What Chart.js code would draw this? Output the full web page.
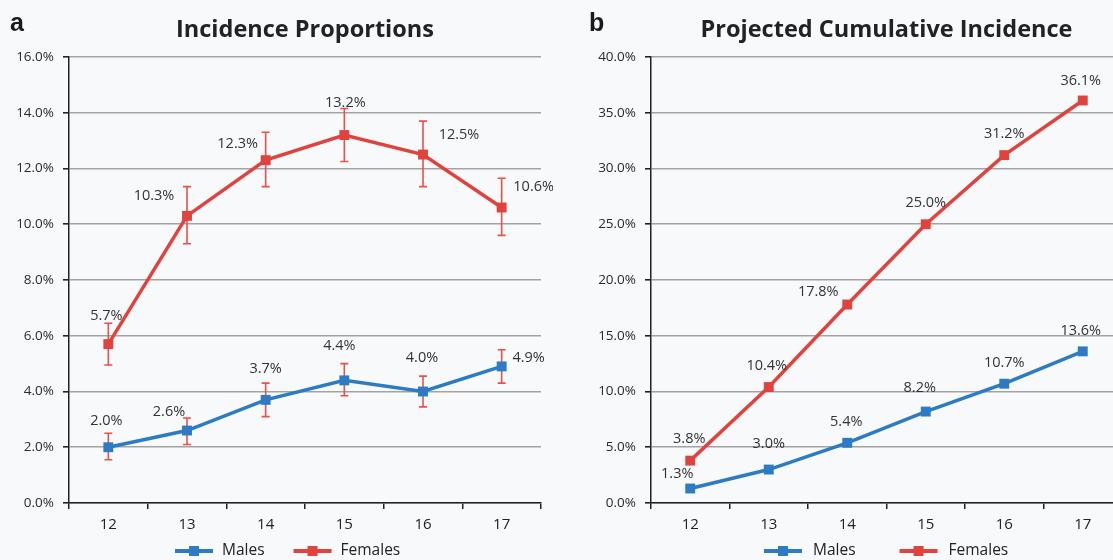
<!DOCTYPE html>
<html>
<head>
<meta charset="utf-8">
<script src="https://cdn.jsdelivr.net/npm/chart.js@4.4.1/dist/chart.umd.min.js"></script>
<style>
  html, body { margin: 0; padding: 0; background: #f8f9fb; overflow: hidden; width: 1113px; height: 560px; }
  .panel { position: absolute; top: 0; }
  #wrapA { left: 0; width: 553px; height: 580px; }
  #wrapB { left: 556px; width: 600px; height: 580px; }
</style>
</head>
<body>
<div class="panel" id="wrapA"><canvas id="chartA" width="553" height="580"></canvas></div>
<div class="panel" id="wrapB"><canvas id="chartB" width="600" height="580"></canvas></div>
<script>
const ages = ['12', '13', '14', '15', '16', '17'];

// panel a - incidence proportions (%)
const incMales = [2.0, 2.6, 3.7, 4.4, 4.0, 4.9];
const incFemales = [5.7, 10.3, 12.3, 13.2, 12.5, 10.6];
// error bar ends
const incMalesLow = [1.55, 2.1, 3.1, 3.85, 3.45, 4.3];
const incMalesHigh = [2.5, 3.05, 4.3, 5.0, 4.55, 5.5];
const incFemalesLow = [4.95, 9.3, 11.35, 12.25, 11.35, 9.6];
const incFemalesHigh = [6.45, 11.35, 13.3, 14.15, 13.7, 11.65];

// panel b - projected cumulative incidence (%)
const cumMales = [1.3, 3.0, 5.4, 8.2, 10.7, 13.6];
const cumFemales = [3.8, 10.4, 17.8, 25.0, 31.2, 36.1];

// y axis ranges
const yA = { max: 16, step: 2 };
const yB = { max: 40, step: 5 };

const BLUE = '#2c7bc3';
const RED = '#e0433e';
const ERR = '#e8524c';
const FONT = '"Open Sans", Lato, sans-serif';

Chart.defaults.font.family = FONT;
Chart.defaults.color = '#333';

// error bars are drawn under the lines
const errorBars = {
  id: 'errorBars',
  beforeDatasetsDraw(chart) {
    const ctx = chart.ctx;
    const y = chart.scales.y;
    ctx.save();
    ctx.strokeStyle = ERR;
    ctx.lineWidth = 1.6;
    chart.data.datasets.forEach((ds, di) => {
      if (!ds.errLow) return;
      chart.getDatasetMeta(di).data.forEach((pt, i) => {
        const top = y.getPixelForValue(ds.errHigh[i]);
        const bot = y.getPixelForValue(ds.errLow[i]);
        ctx.beginPath();
        ctx.moveTo(pt.x, top); ctx.lineTo(pt.x, bot);
        ctx.moveTo(pt.x - 4, top); ctx.lineTo(pt.x + 4, top);
        ctx.moveTo(pt.x - 4, bot); ctx.lineTo(pt.x + 4, bot);
        ctx.stroke();
      });
    });
    ctx.restore();
  }
};

// value labels next to each point
const valueLabels = {
  id: 'valueLabels',
  afterDatasetsDraw(chart) {
    const ctx = chart.ctx;
    ctx.save();
    ctx.font = '14.5px ' + FONT;
    ctx.fillStyle = '#333';
    ctx.textAlign = 'center';
    ctx.textBaseline = 'middle';
    chart.data.datasets.forEach((ds, di) => {
      chart.getDatasetMeta(di).data.forEach((pt, i) => {
        const n = ds.nudge[i];
        ctx.fillText(ds.data[i].toFixed(1) + '%', pt.x + n[0], pt.y + n[1]);
      });
    });
    ctx.restore();
  }
};

// panel letter and the line+square legend under the axis
const panelDecor = {
  id: 'panelDecor',
  afterDraw(chart, args, opts) {
    const ctx = chart.ctx;
    ctx.save();
    ctx.font = 'bold 25px "Liberation Sans", Arial, sans-serif';
    ctx.fillStyle = '#1a1a1a';
    ctx.textBaseline = 'alphabetic';
    ctx.fillText(opts.letter, opts.letterX, 31);

    ctx.font = '15.5px ' + FONT;
    ctx.textBaseline = 'middle';
    let x = opts.legendX;
    const y = 551;
    chart.data.datasets.forEach(ds => {
      ctx.strokeStyle = ds.borderColor;
      ctx.lineWidth = 4;
      ctx.beginPath(); ctx.moveTo(x, y); ctx.lineTo(x + 38, y); ctx.stroke();
      ctx.fillStyle = ds.borderColor;
      ctx.fillRect(x + 14, y - 5, 10, 10);
      x += 38 + opts.textGap;
      ctx.fillStyle = '#222';
      ctx.fillText(ds.label, x, y);
      x += ctx.measureText(ds.label).width + opts.itemGap;
    });
    ctx.restore();
  }
};

function lineSet(label, data, color, nudge, low, high) {
  return {
    label: label,
    data: data,
    borderColor: color,
    backgroundColor: color,
    borderWidth: 3.5,
    pointStyle: 'rect',
    pointRadius: 7,
    pointHoverRadius: 7,
    pointBorderWidth: 0,
    pointBackgroundColor: color,
    tension: 0,
    nudge: nudge,
    errLow: low,
    errHigh: high
  };
}

function makeChart(id, title, decor, datasets, yRange, axisWidth, padRight) {
  return new Chart(document.getElementById(id), {
    type: 'line',
    data: { labels: ages, datasets: datasets },
    plugins: [errorBars, valueLabels, panelDecor],
    options: {
      responsive: false,
      animation: false,
      layout: { padding: { top: 0, left: 0, right: padRight, bottom: 41 } },
      scales: {
        x: {
          offset: true,
          grid: { offset: true, drawOnChartArea: false, drawTicks: true, tickLength: 6, tickColor: '#222', lineWidth: 1.5 },
          border: { color: '#222', width: 1.5 },
          ticks: { font: { size: 15 }, color: '#222', padding: 7 },
          afterFit(scale) { scale.height = 36; }
        },
        y: {
          min: 0,
          max: yRange.max,
          ticks: {
            stepSize: yRange.step,
            font: { size: 13.5 },
            color: '#2a2a2a',
            padding: 9,
            callback: v => v.toFixed(1) + '%'
          },
          grid: { color: '#a3a3a3', lineWidth: 1.6, tickLength: 6, tickColor: '#222' },
          border: { color: '#222', width: 1.5 },
          afterFit(scale) { scale.width = axisWidth; }
        }
      },
      plugins: {
        title: {
          display: true,
          text: title,
          fullSize: false,
          color: '#222',
          font: { size: 23.5, weight: 'bold' },
          padding: { top: 16, bottom: 12.8 }
        },
        legend: { display: false },
        tooltip: { enabled: false },
        panelDecor: decor
      }
    }
  });
}

const chartA = makeChart('chartA', 'Incidence Proportions',
  { letter: 'a', letterX: 10, legendX: 175, textGap: 9, itemGap: 29 }, [
  lineSet('Males', incMales, BLUE,
    [[-2, -26], [-18, -19], [0, -31], [-5, -34], [-1, -34], [27, -9]],
    incMalesLow, incMalesHigh),
  lineSet('Females', incFemales, RED,
    [[-2, -28], [-33, -20], [-28, -16], [1, -32], [36, -20], [32, -21]],
    incFemalesLow, incFemalesHigh)
], yA, 69, 12);

const chartB = makeChart('chartB', 'Projected Cumulative Incidence',
  { letter: 'b', letterX: 33, legendX: 208, textGap: 11, itemGap: 44 }, [
  lineSet('Males', cumMales, BLUE,
    [[-13, -15], [0, -26], [-1, -21], [-6, -24], [0, -21], [-2, -20]]),
  lineSet('Females', cumFemales, RED,
    [[-1, -22], [-2, -21], [-29, -13], [0, -21], [0, -21], [-2, -20]])
], yB, 95, 34);
</script>
</body>
</html>
